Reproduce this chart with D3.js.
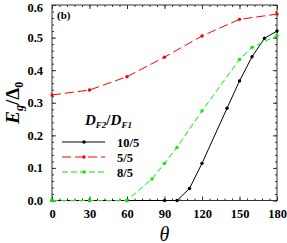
<!DOCTYPE html>
<html><head><meta charset="utf-8">
<script src="https://cdn.jsdelivr.net/npm/d3@7"></script>
<style>body{margin:0;background:#fff}svg{display:block}</style>
</head><body>
<script>
const blackTheta = [0, 30, 60, 90, 100, 110, 120, 140, 150, 160, 170, 180];
const blackVals  = [0, 0, 0, 0, 0, 0.037, 0.114, 0.283, 0.367, 0.441, 0.498, 0.52];
const redTheta = [0, 30, 60, 90, 120, 150, 180];
const redVals  = [0.324, 0.339, 0.38, 0.44, 0.505, 0.556, 0.572];
const greenTheta = [0, 30, 60, 80, 90, 100, 120, 150, 160, 180];
const greenVals  = [0, 0, 0, 0.066, 0.114, 0.163, 0.275, 0.433, 0.47, 0.506];
const xTicks = [0, 30, 60, 90, 120, 150, 180];
const yTicks = [0.0, 0.1, 0.2, 0.3, 0.4, 0.5, 0.6];
const legendLabels = ["10/5", "5/5", "8/5"];

const W = 287, H = 243;
const m = {l: 52, r: 10, t: 5, b: 42.5};
const svg = d3.select("body").append("svg").attr("width", W).attr("height", H);
const x = d3.scaleLinear().domain([0, 180]).range([m.l, W - m.r]);
const y = d3.scaleLinear().domain([0, 0.6]).range([H - m.b, m.t]);
const font = "'Liberation Serif','Times New Roman',serif";

svg.append("rect").attr("x", x(0)).attr("y", y(0.6)).attr("width", x(180) - x(0)).attr("height", y(0) - y(0.6))
  .attr("fill", "none").attr("stroke", "#333").attr("stroke-width", 1);

const xMinor = d3.range(0, 181, 6);
const yMinor = d3.range(0, 0.601, 0.02);
function axes() {
  const g = svg.append("g");
  g.append("g").attr("transform", `translate(0,${y(0)})`)
    .call(d3.axisBottom(x).tickValues(xMinor).tickSize(-2).tickFormat(""));
  g.append("g").attr("class", "lab").attr("transform", `translate(0,${y(0)})`)
    .call(d3.axisBottom(x).tickValues(xTicks).tickSize(-4).tickPadding(9).tickFormat(d3.format("d")));
  g.append("g").attr("transform", `translate(0,${y(0.6)})`)
    .call(d3.axisTop(x).tickValues(xMinor).tickSize(-2).tickFormat(""));
  g.append("g").attr("transform", `translate(0,${y(0.6)})`)
    .call(d3.axisTop(x).tickValues(xTicks).tickSize(-4).tickFormat(""));
  g.append("g").attr("transform", `translate(${x(0)},0)`)
    .call(d3.axisLeft(y).tickValues(yMinor).tickSize(-2).tickFormat(""));
  const l2 = g.append("g").attr("class", "lab").attr("transform", `translate(${x(0)},0)`)
    .call(d3.axisLeft(y).tickValues(yTicks).tickSize(-4).tickPadding(9).tickFormat(d3.format(".1f")));
  g.append("g").attr("transform", `translate(${x(180)},0)`)
    .call(d3.axisRight(y).tickValues(yMinor).tickSize(-2).tickFormat(""));
  g.append("g").attr("transform", `translate(${x(180)},0)`)
    .call(d3.axisRight(y).tickValues(yTicks).tickSize(-4).tickFormat(""));
  g.selectAll(".domain").remove();
  g.selectAll(".tick line").attr("stroke", "#333");
  g.selectAll(".tick text").attr("font-family", font).attr("font-weight", "bold").attr("font-size", 12.5).attr("fill", "#000");
  l2.selectAll(".tick text").filter(d => d === 0.6).attr("dy", "0.5em");
}
axes();

function series(th, vals, color, dash) {
  const pts = th.map((t, i) => [t, vals[i]]);
  svg.append("path").datum(pts)
    .attr("d", d3.line().x(d => x(d[0])).y(d => y(d[1])))
    .attr("fill", "none").attr("stroke", color).attr("stroke-width", 1)
    .attr("stroke-dasharray", dash);
  svg.append("g").selectAll("circle").data(pts).join("circle")
    .attr("cx", d => x(d[0])).attr("cy", d => y(d[1])).attr("r", 1.7).attr("fill", color);
}
series(blackTheta, blackVals, "#000", null);
series(redTheta, redVals, "#ff0000", "9,4");
series(greenTheta, greenVals, "#00ee00", "6,3");

svg.append("text").attr("x", 57).attr("y", 19).attr("font-family", font).attr("font-weight", "bold")
  .attr("font-size", 11).text("(b)");

const yl = svg.append("text").attr("transform", `translate(19,${(y(0)+y(0.6))/2}) rotate(-90)`)
  .attr("text-anchor", "middle").attr("font-family", font).attr("font-weight", "bold").attr("font-style", "italic")
  .attr("font-size", 19);
yl.append("tspan").text("E");
yl.append("tspan").attr("font-size", 12).attr("dy", 4).text("g");
yl.append("tspan").attr("dy", -4).attr("font-style", "normal").text("/Δ");
yl.append("tspan").attr("font-size", 12).attr("dy", 4).attr("font-style", "normal").text("0");

svg.append("text").attr("x", x(90)).attr("y", 240.5).attr("text-anchor", "middle").attr("font-family", font)
  .attr("font-style", "italic").attr("font-size", 20).text("θ");

const lt = svg.append("text").attr("x", 85).attr("y", 125).attr("font-family", font).attr("font-weight", "bold")
  .attr("font-style", "italic").attr("font-size", 15);
lt.append("tspan").text("D");
lt.append("tspan").attr("font-size", 9).attr("dy", 3).text("F2");
lt.append("tspan").attr("dy", -3).attr("font-style", "normal").text("/");
lt.append("tspan").text("D");
lt.append("tspan").attr("font-size", 9).attr("dy", 3).text("F1");

const legColors = ["#000", "#ff0000", "#00ee00"];
const legDash = [null, "9,4", "6,3"];
legendLabels.forEach((lab, i) => {
  const yy = 142 + i * 15;
  svg.append("line").attr("x1", 62).attr("x2", 105).attr("y1", yy).attr("y2", yy)
    .attr("stroke", legColors[i]).attr("stroke-width", 1).attr("stroke-dasharray", legDash[i]);
  svg.append("circle").attr("cx", 84).attr("cy", yy).attr("r", 1.7).attr("fill", legColors[i]);
  svg.append("text").attr("x", 117).attr("y", yy + 4.5).attr("font-family", font).attr("font-weight", "bold")
    .attr("font-size", 12.5).text(lab);
});
</script>
</body></html>
